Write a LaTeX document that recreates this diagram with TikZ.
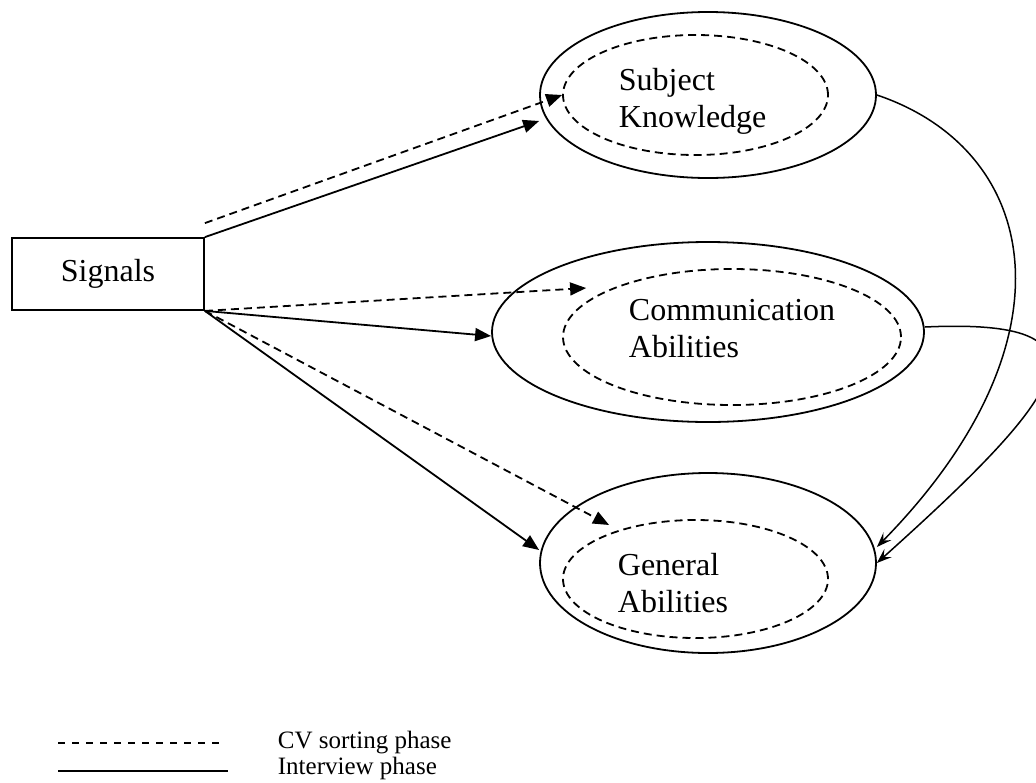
\documentclass[tikz,border=0pt]{standalone}
\usepackage{fontspec}
\setmainfont{Liberation Serif}
\usetikzlibrary{shapes.geometric,arrows.meta}
\tikzset{
  outerell/.style={draw,ellipse,inner sep=0pt},
  innerell/.style={draw,ellipse,inner sep=0pt,dash pattern=on 8pt off 5pt},
  lbl/.style={anchor=base west,align=left,inner sep=0pt,font=\fontsize{32}{37}\selectfont},
  cvline/.style={dash pattern=on 8pt off 5pt,-{Triangle[length=16pt,width=13pt]}},
  ivline/.style={-{Triangle[length=16pt,width=13pt]}},
  curvearr/.style={-{Stealth[length=15pt,width=11pt,inset=6pt]},line width=1.5pt},
  legtext/.style={anchor=base west,inner sep=0pt,font=\fontsize{25}{29}\selectfont}
}
\begin{document}
\begin{tikzpicture}[x=1pt,y=-1pt,line width=1.8pt]
\useasboundingbox (0,0) rectangle (1036,782);
\clip (0,0) rectangle (1036,782);
\fill[white] (0,0) rectangle (1036,782);

% Signals box
\node[draw,minimum width=192pt,minimum height=72pt,inner sep=0pt,font=\fontsize{32}{37}\selectfont] (sig) at (108,274) {Signals};

% Ellipses
\node[outerell,minimum width=336pt,minimum height=166pt] (sk) at (708,95) {};
\node[innerell,minimum width=265pt,minimum height=120pt] (ski) at (695.5,95) {};
\node[lbl] (skt) at (618,127) {Subject\\Knowledge};

\node[outerell,minimum width=432pt,minimum height=180pt] (ca) at (708,332) {};
\node[innerell,minimum width=338pt,minimum height=136pt] (cai) at (732,337) {};
\node[lbl] (cat) at (628,357) {Communication\\Abilities};

\node[outerell,minimum width=336pt,minimum height=180pt] (ga) at (708,563) {};
\node[innerell,minimum width=265pt,minimum height=118pt] (gai) at (695.5,579) {};
\node[lbl] (gat) at (617,612) {General\\Abilities};

% Arrows from Signals
\draw[cvline] ([yshift=14pt]sig.north east) -- (ski.west);
\draw[ivline] (sig.north east) -- ([yshift=-26pt]sk.west);
\draw[cvline] (sig.south east) -- ([xshift=24pt,yshift=49pt]cai.west);
\draw[ivline] (sig.south east) -- ([yshift=-4pt]ca.west);
\draw[cvline] (sig.south east) -- ([xshift=47pt,yshift=54pt]gai.west);
\draw[ivline] (sig.south east) -- ([yshift=13pt]ga.west);

% Curved arrows to General Abilities
\draw[curvearr] (sk.east) .. controls (1040,150) and (1080,340) .. ([yshift=16pt]ga.east);
\draw[curvearr] ([yshift=5pt]ca.east) .. controls (1120,318) and (1070,390) .. (ga.east);

% Legend
\coordinate (l1a) at (58,743);
\coordinate (l1b) at (220,743);
\coordinate (l2a) at (58,771);
\coordinate (l2b) at (228,771);
\draw[dash pattern=on 7pt off 7pt] (l1a) -- (l1b);
\draw (l2a) -- (l2b);
\node[legtext] (lt1) at (277,748) {CV sorting phase};
\node[legtext] (lt2) at (277,774) {Interview phase};
\end{tikzpicture}
\end{document}
